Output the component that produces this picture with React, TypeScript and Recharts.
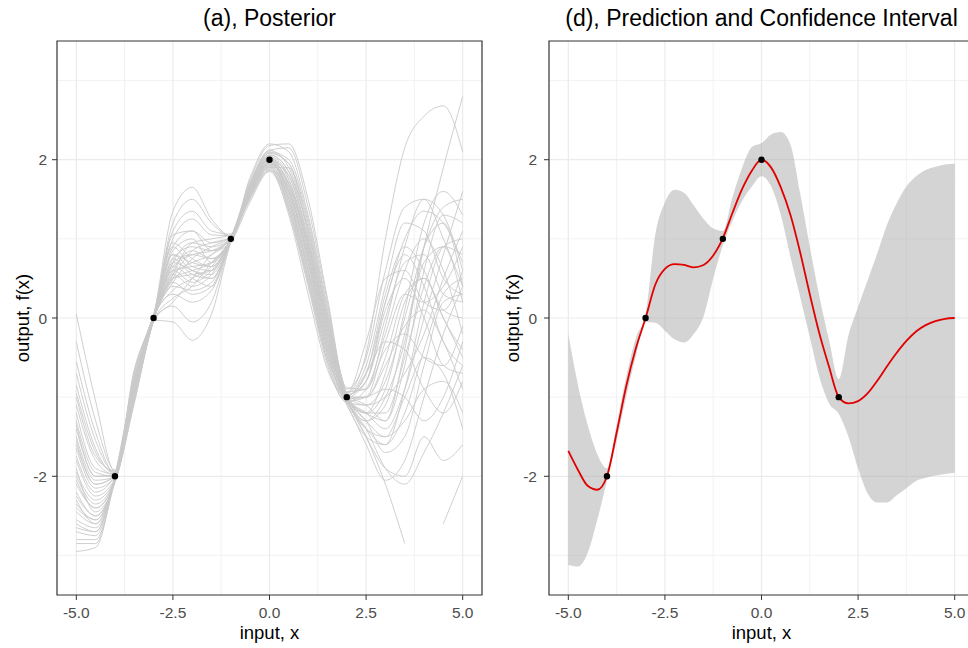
import { ComposedChart, Line, Area, Scatter, XAxis, YAxis, CartesianGrid, ReferenceArea, Label } from 'recharts'

// ==================== || GP POSTERIOR - SAMPLES AND PREDICTION BAND || ==================== //

const xTicks = [-5, -2.5, 0, 2.5, 5]
const xMinor = [-3.75, -1.25, 1.25, 3.75]
const yTicks = [-2, 0, 2]
const yMinor = [-3, -1, 1, 3]

// observed training points
const obsX = [-4, -3, -1, 0, 2]
const obsY = [-2, 0, 1, 2, -1]

// posterior draws, read at x = -5 ... 5 step 0.5
const xGrid = [-5, -4.5, -4, -3.5, -3, -2.5, -2, -1.5, -1, -0.5, 0, 0.5, 1, 1.5, 2, 2.5, 3, 3.5, 4, 4.5, 5]

const posteriorSamples = [
    [0.05, -1.05, -1.94, -0.8, 0.02, 1.35, 1.65, 1.25, 1.04, 1.72, 2.12, 2.15, 1.4, 0.2, -0.94, -0.45, 1.0, 2.15, 2.55, 2.68, 2.1],
    [-0.55, -1.45, -1.96, -0.82, 0.01, 1.2, 1.5, 1.2, 1.03, 1.68, 2.08, 1.95, 1.15, 0.05, -0.96, -1.3, -1.0, -0.3, 0.9, 1.9, 2.8],
    [-0.85, -1.65, -1.97, -0.84, 0.0, 0.9, 1.1, 0.95, 1.02, 1.66, 2.04, 1.8, 1.0, -0.05, -0.98, -0.7, 0.2, 1.0, 1.35, 1.2, 0.7],
    [-1.1, -1.8, -1.98, -0.86, 0.0, 0.7, 0.8, 0.75, 1.01, 1.62, 1.98, 1.7, 0.9, -0.15, -1.0, -1.2, -1.4, -0.9, 0.0, 0.8, 1.6],
    [-1.3, -1.95, -2.0, -0.88, -0.01, 0.6, 0.65, 0.7, 1.0, 1.6, 1.95, 1.6, 0.75, -0.3, -1.02, -1.2, -1.3, -0.6, 0.6, 1.3, 1.2],
    [-1.5, -2.05, -2.01, -0.9, -0.01, 0.5, 0.55, 0.6, 0.99, 1.57, 1.92, 1.5, 0.6, -0.4, -1.04, -1.4, -1.6, -1.2, -0.4, 0.3, 0.5],
    [-1.65, -2.15, -2.02, -0.92, -0.02, 0.4, 0.35, 0.45, 0.98, 1.55, 1.9, 1.4, 0.45, -0.55, -1.06, -0.9, -0.2, 0.6, 1.0, 0.6, -0.2],
    [-1.8, -2.25, -2.03, -0.94, -0.02, 0.15, -0.05, 0.2, 0.97, 1.52, 1.88, 1.3, 0.3, -0.65, -1.08, -1.6, -2.05, -1.8, -1.0, -0.2, 0.4],
    [-1.95, -2.3, -2.04, -0.96, -0.03, -0.05, -0.28, 0.05, 0.96, 1.5, 1.86, 1.65, 0.85, -0.2, -1.0, -1.0, -0.6, -0.1, 0.1, -0.3, -0.9],
    [-2.1, -2.4, -2.05, -0.98, -0.02, 0.75, 0.9, 0.85, 1.0, 1.64, 2.02, 1.75, 0.95, -0.1, -0.97, -0.8, 0.0, 0.7, 0.8, 0.3, 0.2],
    [-2.25, -2.5, -2.04, -0.9, 0.0, 0.55, 0.7, 0.8, 1.02, 1.6, 1.97, 1.55, 0.7, -0.35, -1.01, -1.3, -1.5, -1.3, -0.9, -0.8, -1.2],
    [-2.4, -2.55, -2.03, -0.85, 0.01, 0.8, 0.6, 0.55, 1.01, 1.66, 2.06, 1.85, 1.1, 0.0, -0.95, -0.6, 0.4, 1.2, 1.1, 0.5, 0.3],
    [-2.55, -2.65, -2.02, -0.83, 0.02, 0.45, 0.75, 0.9, 1.03, 1.58, 1.94, 1.45, 0.5, -0.5, -1.05, -1.4, -1.9, -2.1, -1.7, -1.2, -0.6],
    [-2.7, -2.75, -2.01, -0.81, 0.02, 0.65, 0.5, 0.4, 0.99, 1.62, 2.0, 1.6, 0.8, -0.25, -0.99, -1.1, -0.8, 0.0, 0.9, 1.4, 1.5],
    [-2.85, -2.85, -2.0, -0.79, 0.03, 1.0, 1.25, 1.05, 1.04, 1.7, 2.1, 2.0, 1.25, 0.1, -0.93, -0.9, -0.4, -0.2, -0.5, -0.6, -0.1],
    [-2.95, -2.9, -1.99, -0.78, 0.02, 0.3, 0.2, 0.35, 0.98, 1.56, 1.93, 1.7, 0.85, -0.2, -1.01, -1.2, -1.2, -0.5, 0.4, 0.9, 0.8],
    [-1.2, -1.9, -1.97, -0.87, 0.0, 0.85, 1.0, 0.7, 1.0, 1.65, 2.01, 1.5, 0.65, -0.4, -1.03, -1.5, -1.9, -2.0, -1.5, -1.8, -1.6],
    [-1.6, -2.1, -2.0, -0.89, -0.01, 0.6, 0.45, 0.6, 0.97, 1.54, 1.9, 1.9, 1.05, -0.05, -0.97, -0.8, 0.1, 0.5, 0.0, -0.6, -0.7],
    [-2.0, -2.35, -2.04, -0.93, -0.02, 0.5, 0.85, 0.95, 1.02, 1.67, 2.05, 1.35, 0.4, -0.6, -1.07, -1.1, -1.0, -0.7, -0.2, 0.5, 1.1],
    [-2.3, -2.6, -2.05, -0.95, -0.02, 0.7, 0.6, 0.5, 0.99, 1.59, 1.96, 1.65, 0.75, -0.3, -1.02, -1.5, -2.1, -2.85, null, -2.6, -2.0],
    [-1.4, -2.0, -1.98, -0.84, 0.01, 0.35, 0.5, 0.65, 1.01, 1.63, 1.99, 1.8, 0.95, -0.1, -0.98, -0.7, 0.3, 0.9, 0.6, 0.0, -0.4],
    [-2.6, -2.7, -2.02, -0.91, 0.0, 0.95, 0.75, 0.65, 1.0, 1.61, 1.97, 1.55, 0.6, -0.45, -1.0, -1.0, -0.5, 0.3, 0.5, 0.1, 0.0],
    [-0.7, -1.55, -1.95, -1.05, -0.03, 0.55, 0.95, 1.0, 1.05, 1.75, 2.18, 2.2, 1.5, 0.25, -0.9, -0.5, 0.6, 1.4, 1.5, 1.0, 0.4],
    [-1.0, -1.75, -1.93, -0.65, 0.04, 1.1, 1.35, 1.1, 1.06, 1.78, 2.2, 2.1, 1.3, 0.15, -0.88, -0.9, -0.1, 0.9, 1.5, 1.3, 0.6],
    [-1.9, -2.45, -2.08, -1.08, -0.04, 0.25, 0.4, 0.7, 0.95, 1.47, 1.85, 1.35, 0.45, -0.55, -1.1, -1.5, -1.6, -0.9, 0.2, 0.9, 1.0],
    [-2.2, -2.5, -2.07, -1.02, -0.03, 0.6, 0.85, 0.75, 1.0, 1.6, 1.96, 1.6, 0.7, -0.35, -1.03, -1.3, -1.1, -0.2, 0.7, 0.9, 0.2],
    [-0.3, -1.3, -1.92, -0.68, 0.03, 0.8, 0.7, 0.65, 1.01, 1.62, 2.0, 1.7, 0.9, -0.15, -0.99, -0.7, -0.3, -0.4, -0.9, -1.2, -0.8],
    [-2.8, -2.8, -2.06, -0.97, -0.02, 0.5, 0.6, 0.7, 0.98, 1.55, 1.92, 1.5, 0.55, -0.45, -1.04, -1.2, -0.7, 0.2, 0.5, 0.0, -0.5],
    [-1.75, -2.2, -1.99, -0.75, 0.03, 1.05, 1.1, 0.85, 1.03, 1.69, 2.09, 1.95, 1.2, 0.05, -0.95, -0.3, 0.5, 0.6, 0.2, 0.1, 0.6],
    [-2.45, -2.6, -2.03, -0.92, -0.01, 0.7, 0.95, 0.9, 1.0, 1.63, 2.02, 1.75, 0.9, -0.15, -0.99, -1.3, -1.7, -1.5, -0.6, 0.2, 0.3],
    [-1.35, -2.0, -2.0, -0.86, 0.0, 0.45, 0.3, 0.4, 0.99, 1.58, 1.95, 1.6, 0.75, -0.3, -1.02, -1.0, -0.9, -1.0, -1.3, -1.0, -0.3],
    [-2.05, -2.4, -2.03, -0.7, 0.03, 0.9, 0.65, 0.6, 1.02, 1.7, 2.12, 1.9, 1.1, 0.0, -0.96, -1.1, -1.3, -0.4, 0.9, 1.2, 0.4],
    [-2.65, -2.7, -2.06, -1.06, -0.04, 0.2, 0.5, 0.8, 0.97, 1.52, 1.87, 1.4, 0.5, -0.5, -1.06, -1.4, -1.5, -1.0, -0.5, -0.7, -1.4],
    [-1.55, -2.1, -1.98, -0.8, 0.02, 0.75, 0.55, 0.5, 1.0, 1.64, 2.03, 1.65, 0.8, -0.25, -1.0, -0.8, 0.2, 0.8, 0.4, -0.3, -0.6],
    [-0.95, -1.7, -1.95, -0.72, 0.03, 0.65, 0.8, 0.85, 1.03, 1.67, 2.06, 1.85, 1.0, -0.1, -0.97, -1.2, -0.9, 0.1, 1.2, 1.6, 1.3],
    [-2.35, -2.55, -2.05, -1.0, -0.03, 0.55, 0.4, 0.55, 0.98, 1.56, 1.9, 1.45, 0.6, -0.4, -1.05, -1.0, -0.3, 0.3, 0.2, 0.4, 0.9],
]

// prediction (mean) and confidence interval, read at x = -5 ... 5 step 0.25
const xFine = [
    -5, -4.75, -4.5, -4.25, -4, -3.75, -3.5, -3.25, -3, -2.75, -2.5, -2.25, -2, -1.75, -1.5, -1.25, -1, -0.75, -0.5, -0.25, 0,
    0.25, 0.5, 0.75, 1, 1.25, 1.5, 1.75, 2, 2.25, 2.5, 2.75, 3, 3.25, 3.5, 3.75, 4, 4.25, 4.5, 4.75, 5,
]
const predMean = [
    -1.68, -1.92, -2.12, -2.17, -2.0, -1.45, -0.86, -0.38, 0.0, 0.42, 0.62, 0.68, 0.67, 0.64, 0.67, 0.79, 1.01, 1.33, 1.63, 1.86, 2.0,
    1.9, 1.65, 1.3, 0.83, 0.3, -0.2, -0.62, -1.0, -1.08, -1.05, -0.95, -0.79, -0.61, -0.44, -0.29, -0.17, -0.09, -0.04, -0.01, 0.0,
]
const predUpper = [
    -0.2, -0.85, -1.35, -1.72, -1.9, -1.35, -0.74, -0.25, 0.05, 1.05, 1.46, 1.62, 1.58, 1.42, 1.25, 1.13, 1.1, 1.53, 1.9, 2.16, 2.21,
    2.32, 2.35, 2.19, 1.58, 0.9, 0.27, -0.28, -0.77, -0.22, 0.14, 0.48, 0.82, 1.18, 1.45, 1.66, 1.79, 1.87, 1.91, 1.94, 1.95,
]
const predLower = [
    -3.12, -3.14, -2.97, -2.55, -2.06, -1.55, -0.99, -0.48, -0.05, -0.06, -0.16, -0.27, -0.31, -0.2, 0.02, 0.5, 0.92, 1.23, 1.48, 1.66, 1.79,
    1.66, 1.3, 0.77, 0.27, -0.24, -0.75, -1.08, -1.21, -1.5, -1.9, -2.22, -2.33, -2.33, -2.24, -2.15, -2.06, -2.02, -1.99, -1.97, -1.96,
]

const FONT = '"Liberation Sans", Arial, sans-serif'
const TICK_STYLE = { fill: '#4d4d4d', fontSize: 15.5, fontFamily: FONT }

const sampleRows = xGrid.map((x, i) => {
    const row: any = { x }
    posteriorSamples.forEach((s, j) => {
        row['s' + j] = s[i]
    })
    return row
})

const predRows = xFine.map((x, i) => ({
    x,
    mean: predMean[i],
    band: [predLower[i], predUpper[i]],
}))

const obsRows = obsX.map((x, i) => ({ x, y: obsY[i] }))

const Dot = (props: any) => <circle cx={props.cx} cy={props.cy} r={3.2} fill="#000" />

const YTitle = ({ viewBox }: any) => (
    <text
        x={viewBox.x + 22.5}
        y={viewBox.y + viewBox.height / 2}
        transform={`rotate(-90, ${viewBox.x + 22.5}, ${viewBox.y + viewBox.height / 2})`}
        textAnchor="middle"
        dominantBaseline="central"
        fontSize={18.5}
        fontFamily={FONT}
        fill="#000"
    >
        output, f(x)
    </text>
)

const XTitle = ({ viewBox }: any) => (
    <text
        x={viewBox.x + viewBox.width / 2}
        y={viewBox.y + 43.8}
        textAnchor="middle"
        fontSize={18.5}
        fontFamily={FONT}
        fill="#000"
    >
        input, x
    </text>
)

// grid, axes and border shared by both panels
const panelFrame = (yTickMargin: number, yWidth: number) => [
    <CartesianGrid key="minor" verticalValues={xMinor} horizontalValues={yMinor} stroke="#ededed" strokeWidth={0.7} />,
    <CartesianGrid key="major" verticalValues={xTicks} horizontalValues={yTicks} stroke="#ebebeb" strokeWidth={1.2} />,
    <XAxis
        key="x"
        type="number"
        dataKey="x"
        domain={[-5.5, 5.5]}
        ticks={xTicks}
        interval={0}
        allowDataOverflow
        tickFormatter={(v: number) => v.toFixed(1)}
        tickSize={5}
        tickMargin={7}
        axisLine={false}
        tickLine={{ stroke: '#333333' }}
        tick={TICK_STYLE}
        height={53}
    >
        <Label content={XTitle} />
    </XAxis>,
    <YAxis
        key="y"
        type="number"
        domain={[-3.5, 3.5]}
        ticks={yTicks}
        interval={0}
        allowDataOverflow
        tickSize={5}
        tickMargin={yTickMargin}
        axisLine={false}
        tickLine={{ stroke: '#333333' }}
        tick={TICK_STYLE}
        width={yWidth}
    >
        <Label content={YTitle} />
    </YAxis>,
]

const Title = ({ left, width, text }: { left: number; width: number; text: string }) => (
    <div
        style={{
            position: 'absolute',
            left,
            width,
            top: 7,
            textAlign: 'center',
            fontFamily: FONT,
            fontSize: 23,
            lineHeight: '23px',
            color: '#000',
            whiteSpace: 'nowrap',
        }}
    >
        {text}
    </div>
)

const App = () => {
    return (
        <div
            style={{
                position: 'fixed',
                left: 0,
                top: 0,
                width: 968,
                height: 648,
                overflow: 'hidden',
                background: '#fff',
            }}
        >
            <div style={{ position: 'absolute', left: 0, top: 0 }}>
                <ComposedChart width={490} height={648} data={sampleRows} margin={{ top: 41, right: 8, bottom: 0, left: 0 }}>
                    {panelFrame(5, 57)}
                    {posteriorSamples.map((_, j) => (
                        <Line
                            key={'s' + j}
                            dataKey={'s' + j}
                            type="monotone"
                            stroke="#c9c9c9"
                            strokeWidth={0.9}
                            dot={false}
                            activeDot={false}
                            connectNulls={false}
                            isAnimationActive={false}
                        />
                    ))}
                    <Scatter data={obsRows} dataKey="y" shape={Dot} isAnimationActive={false} />
                    <ReferenceArea x1={-5.5} x2={5.5} y1={-3.5} y2={3.5} fill="none" stroke="#333333" strokeWidth={1.2} />
                </ComposedChart>
            </div>
            <div style={{ position: 'absolute', left: 490, top: 0 }}>
                <ComposedChart width={490} height={648} data={predRows} margin={{ top: 41, right: 6, bottom: 0, left: 0 }}>
                    {panelFrame(7, 59)}
                    <Area
                        dataKey="band"
                        type="monotone"
                        stroke="none"
                        fill="#a9a9a9"
                        fillOpacity={0.5}
                        isAnimationActive={false}
                    />
                    <Line
                        dataKey="mean"
                        type="monotone"
                        stroke="#e00000"
                        strokeWidth={1.8}
                        dot={false}
                        activeDot={false}
                        isAnimationActive={false}
                    />
                    <Scatter data={obsRows} dataKey="y" shape={Dot} isAnimationActive={false} />
                    <ReferenceArea x1={-5.5} x2={5.5} y1={-3.5} y2={3.5} fill="none" stroke="#333333" strokeWidth={1.2} />
                </ComposedChart>
            </div>
            <Title left={57} width={425} text="(a), Posterior" />
            <Title left={549} width={425} text="(d), Prediction and Confidence Interval" />
        </div>
    )
}

export default App
